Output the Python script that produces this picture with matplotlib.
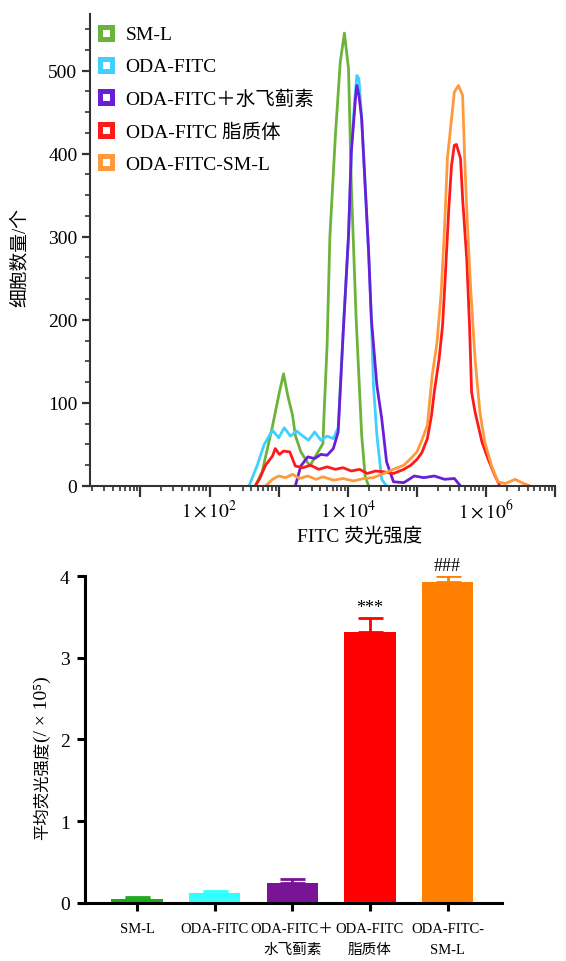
import numpy as np
import matplotlib.pyplot as plt
from matplotlib.lines import Line2D
from matplotlib.ticker import FixedLocator, FuncFormatter, MultipleLocator

plt.rcParams['font.family'] = ['Liberation Serif', 'Noto Sans CJK SC']
plt.rcParams['mathtext.fontset'] = 'stix'
plt.rcParams['axes.unicode_minus'] = False

# ---- 流式直方图数据 (log10 FITC 强度, 细胞数) ----
sml_x = [2.66, 2.76, 2.91, 3.01, 3.07, 3.13, 3.20, 3.24, 3.32, 3.45, 3.54, 3.64, 3.65,
         3.70, 3.74, 3.82, 3.89, 3.95, 4.01, 4.05, 4.12, 4.20, 4.25, 4.30]
sml_y = [0, 17, 72, 113, 135, 109, 85, 61, 41, 24, 37, 51, 75,
         170, 300, 422, 510, 545, 502, 362, 201, 61, 12, 0]

oda_x = [2.57, 2.69, 2.79, 2.91, 3.00, 3.08, 3.17, 3.26, 3.35, 3.43, 3.52, 3.61, 3.70,
         3.79, 3.86, 3.93, 4.01, 4.05, 4.10, 4.13, 4.16, 4.20, 4.25, 4.30, 4.34, 4.37,
         4.42, 4.49, 4.56]
oda_y = [0, 25, 50, 67, 58, 70, 60, 66, 60, 55, 65, 55, 60,
         57, 70, 181, 302, 402, 466, 494, 490, 442, 362, 282, 201, 121,
         61, 8, 0]

sil_x = [3.24, 3.32, 3.42, 3.52, 3.61, 3.70, 3.79, 3.86, 3.93, 4.01, 4.05, 4.11, 4.13,
         4.16, 4.20, 4.25, 4.30, 4.34, 4.42, 4.49, 4.56, 4.66, 4.81, 4.96, 5.10, 5.25,
         5.40, 5.54, 5.63]
sil_y = [0, 24, 35, 33, 38, 37, 45, 65, 181, 302, 402, 466, 482,
         470, 442, 362, 282, 201, 121, 81, 29, 5, 4, 12, 10, 12,
         8, 9, 0]

lip_x = [2.66, 2.72, 2.81, 2.91, 2.95, 3.01, 3.07, 3.16, 3.24, 3.35, 3.46, 3.58, 3.70,
         3.82, 3.93, 4.05, 4.17, 4.28, 4.40, 4.52, 4.66, 4.81, 4.91, 5.00, 5.07, 5.15,
         5.21, 5.25, 5.32, 5.37, 5.41, 5.46, 5.50, 5.54, 5.57, 5.63, 5.66, 5.72, 5.76,
         5.79, 5.84, 5.94, 6.03, 6.13, 6.20]
lip_y = [0, 8, 25, 36, 45, 38, 42, 41, 24, 22, 25, 20, 23,
         20, 22, 18, 20, 15, 18, 17, 15, 20, 25, 32, 40, 57,
         85, 113, 153, 193, 253, 334, 386, 410, 411, 394, 346, 273, 193,
         113, 89, 53, 32, 12, 0]

lsm_x = [2.81, 2.91, 3.00, 3.10, 3.20, 3.30, 3.42, 3.54, 3.64, 3.79, 3.93, 4.08, 4.23,
         4.37, 4.52, 4.66, 4.81, 4.91, 5.00, 5.07, 5.15, 5.22, 5.29, 5.35, 5.40, 5.44,
         5.50, 5.54, 5.60, 5.66, 5.69, 5.73, 5.78, 5.84, 5.91, 5.98, 6.08, 6.17, 6.28,
         6.42, 6.54, 6.64]
lsm_y = [0, 8, 12, 10, 14, 9, 12, 8, 11, 7, 9, 6, 9,
         10, 15, 20, 25, 33, 41, 55, 73, 133, 173, 233, 313, 394,
         442, 474, 482, 470, 394, 313, 233, 153, 89, 53, 24, 5, 3,
         8, 3, 0]

hist_labels = ['SM-L', 'ODA-FITC', 'ODA-FITC＋水飞蓟素', 'ODA-FITC 脂质体', 'ODA-FITC-SM-L']
hist_colors = ['#6cb33a', '#3fd0ff', '#6a1fd6', '#ff1a1a', '#ff9a3c']

# ---- 平均荧光强度柱状图数据 ----
groups = ['SM-L', 'ODA-FITC', 'ODA-FITC＋\n水飞蓟素', 'ODA-FITC\n脂质体', 'ODA-FITC-\nSM-L']
mfi = [0.05, 0.12, 0.24, 3.32, 3.93]
mfi_err = [0.02, 0.03, 0.05, 0.17, 0.07]
bar_colors = ['#1faa1f', '#33ffff', '#7a1496', '#ff0000', '#ff8000']
marks = ['', '', '', '***', '###']

fig = plt.figure(figsize=(5.66, 9.62), dpi=100)

# 上图: 流式直方图
ax1 = fig.add_axes([0.159, 0.4938, 0.822, 0.4906])
series = [(sml_x, sml_y), (oda_x, oda_y), (sil_x, sil_y), (lip_x, lip_y), (lsm_x, lsm_y)]
for (xs, ys), c in zip(series, hist_colors):
    ax1.plot(10 ** np.array(xs), ys, color=c, lw=2.0)

ax1.set_xscale('log')
ax1.set_xlim(10 ** 0.27, 10 ** 7.0)
ax1.set_ylim(0, 568)
ax1.xaxis.set_major_locator(FixedLocator([10.0 ** k for k in range(1, 8)]))
ax1.xaxis.set_major_formatter(FuncFormatter(
    lambda v, p: r'$1\times10^{%d}$' % round(np.log10(v)) if round(np.log10(v)) in (2, 4, 6) else ''))
ax1.yaxis.set_major_locator(MultipleLocator(100))
ax1.yaxis.set_minor_locator(MultipleLocator(25))
for s in ['top', 'right']:
    ax1.spines[s].set_visible(False)
for s in ['left', 'bottom']:
    ax1.spines[s].set_linewidth(1.5)
    ax1.spines[s].set_color('#333333')
ax1.tick_params(axis='both', which='major', direction='out', length=6, width=1.6,
                labelsize=14, color='#333333', pad=3)
ax1.tick_params(axis='both', which='minor', direction='out', length=3.5, width=1.2, color='#333333')
ax1.tick_params(axis='x', which='major', length=8, pad=1)

handles = [Line2D([], [], marker='s', markersize=8, markerfacecolor='white',
                  markeredgecolor=c, markeredgewidth=3.6, linestyle='none') for c in hist_colors]
ax1.legend(handles, hist_labels, loc='upper left', bbox_to_anchor=(0.012, 0.975),
           frameon=False, fontsize=14, borderpad=0, borderaxespad=0,
           handlelength=1.1, handletextpad=0.45, labelspacing=0.74)

fig.text(20 / 566, 1 - 258 / 962, '细胞数量/个', rotation=90, ha='center', va='center', fontsize=13.5)
fig.text(360 / 566, 1 - 537 / 962, 'FITC 荧光强度', ha='center', va='center', fontsize=14)

# 下图: 平均荧光强度
ax2 = fig.add_axes([0.150, 0.0603, 0.737, 0.3399])
pos = np.arange(len(groups))
ax2.bar(pos, mfi, width=0.66, color=bar_colors, zorder=2)
for i in range(len(groups)):
    ax2.errorbar(pos[i], mfi[i], yerr=[[0], [mfi_err[i]]], ecolor=bar_colors[i],
                 elinewidth=2, capsize=9, capthick=2, fmt='none', zorder=1)
for i, m in enumerate(marks):
    if m:
        ax2.text(pos[i], mfi[i] + mfi_err[i] + 0.02, m, ha='center', va='bottom', fontsize=13)

ax2.set_xlim(-0.67, 4.70)
ax2.set_ylim(0, 4.0)
ax2.set_xticks(pos)
ax2.set_xticklabels(groups, fontsize=10.5, linespacing=1.75)
ax2.set_yticks([0, 1, 2, 3, 4])
for s in ['top', 'right']:
    ax2.spines[s].set_visible(False)
for s in ['left', 'bottom']:
    ax2.spines[s].set_linewidth(2.2)
ax2.tick_params(axis='both', direction='out', length=6, width=2.2, pad=5)
ax2.tick_params(axis='x', pad=8)
ax2.tick_params(axis='y', labelsize=14)

# 纵轴标题: 中文部分与括号部分分开排
fig.text(42 / 566, 1 - 840 / 962, '平均荧光强度', rotation=90,
         ha='center', va='bottom', fontsize=11.8)
fig.text(42 / 566, 1 - 742 / 962, '(/ × 10⁵)', rotation=90,
         ha='center', va='bottom', fontsize=14)

fig.savefig('out.png', dpi=100)
